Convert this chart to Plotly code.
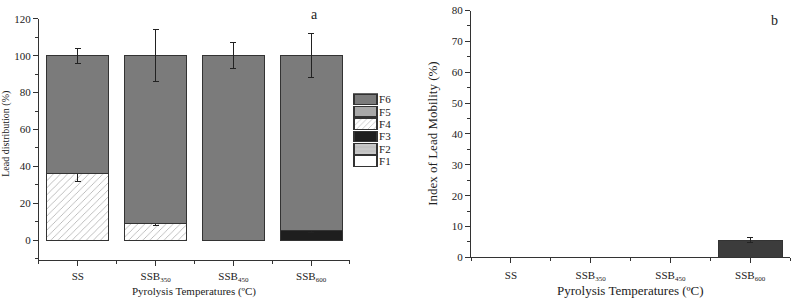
import plotly.graph_objects as go

# ---- data ----
categories = ["SS", "SSB<sub><span style='font-size:7px'>350</span></sub>",
              "SSB<sub><span style='font-size:7px'>450</span></sub>",
              "SSB<sub><span style='font-size:7px'>600</span></sub>"]
fractions = ["F1", "F2", "F3", "F4", "F5", "F6"]
F1 = [0, 0, 0, 0]
F2 = [0, 0, 0, 0]
F3 = [0, 0, 0, 5]
F4 = [36, 9, 0, 0]
F5 = [0, 0, 0, 0]
F6 = [64, 91, 100, 95]
F3_err = [0, 0, 0, 0.8]
F4_err = [4, 1, 0, 0]
F6_err = [4, 14, 7, 12]
mobility = [0, 0, 0, 5.5]
mobility_err = [0, 0, 0, 0.8]

FONT = "Liberation Serif"
EDGE = "#333333"
xpos = list(range(len(categories)))

styles = {
    "F1": dict(color="#ffffff"),
    "F2": dict(color="#c8c8c8", pattern=dict(shape="-", fgcolor="#9a9a9a", bgcolor="#c8c8c8", size=6, solidity=0.15)),
    "F3": dict(color="#1e1e1e"),
    "F4": dict(color="#ffffff", pattern=dict(shape="/", fgcolor="#555555", bgcolor="#ffffff", size=5, solidity=0.15)),
    "F5": dict(color="#a8a8a8"),
    "F6": dict(color="#7b7b7b"),
}
values = {"F1": F1, "F2": F2, "F3": F3, "F4": F4, "F5": F5, "F6": F6}
errs = {"F3": F3_err, "F4": F4_err, "F6": F6_err}

fig = go.Figure()

for f in fractions:
    vals = [v if v != 0 else None for v in values[f]]
    if all(v is None for v in vals):
        continue
    st = styles[f]
    marker = dict(color=st["color"], line=dict(color=EDGE, width=1))
    if "pattern" in st:
        marker["pattern"] = st["pattern"]
    tr = dict(x=xpos, y=vals, name=f, marker=marker, width=0.8, showlegend=False,
              xaxis="x", yaxis="y")
    if f in errs:
        e = [errs[f][i] if vals[i] is not None else None for i in range(len(vals))]
        tr["error_y"] = dict(type="data", array=e, visible=True, color="#222222", thickness=1, width=3)
    fig.add_trace(go.Bar(**tr))

# legend swatches as a small horizontal bar axis
for f in fractions:
    st = styles[f]
    marker = dict(color=st["color"], line=dict(color=EDGE, width=1.2))
    if "pattern" in st:
        marker["pattern"] = dict(st["pattern"], size=4)
    fig.add_trace(go.Bar(x=[1], y=[f], orientation="h", marker=marker, width=0.86,
                         showlegend=False, xaxis="x3", yaxis="y3", hoverinfo="skip"))

# right panel
fig.add_trace(go.Bar(x=xpos, y=[v if v != 0 else None for v in mobility], width=0.8,
                     marker=dict(color="#3c3c3c", line=dict(color=EDGE, width=1)),
                     error_y=dict(type="data", array=mobility_err, visible=True, color="#222222", thickness=1, width=3),
                     showlegend=False, xaxis="x2", yaxis="y2"))

axis_common = dict(showline=True, linecolor=EDGE, linewidth=1.2, ticks="outside", tickcolor=EDGE,
                   showgrid=False, zeroline=False, tickfont=dict(family=FONT, color="#222", size=11))

fig.update_layout(
    width=792, height=304, margin=dict(l=0, r=0, t=0, b=0),
    plot_bgcolor="white", paper_bgcolor="white", barmode="stack",
    font=dict(family=FONT, color="#222"),
    xaxis=dict(axis_common, domain=[0.0492, 0.4419], range=[-0.5, 3.5], tickvals=xpos, ticktext=categories,
               ticklen=5, ticklabelstandoff=1,
               minor=dict(tickvals=[-0.5, 0.5, 1.5, 2.5, 3.5], ticklen=3, ticks="outside", tickcolor=EDGE),
               anchor="y"),
    yaxis=dict(axis_common, domain=[0.1306, 0.9563], range=[-10.7, 120], dtick=20, tick0=0, ticklen=5,
               minor=dict(dtick=10, ticklen=3, ticks="outside", tickcolor=EDGE), anchor="x"),
    xaxis2=dict(axis_common, domain=[0.5947, 0.9975], range=[-0.5, 3.5], tickvals=xpos, ticktext=categories,
                ticklen=5, ticklabelstandoff=2,
                minor=dict(tickvals=[-0.5, 0.5, 1.5, 2.5, 3.5], ticklen=3, ticks="outside", tickcolor=EDGE),
                anchor="y2"),
    yaxis2=dict(axis_common, domain=[0.1391, 0.9845], range=[0, 80], dtick=10, ticklen=5,
                minor=dict(dtick=5, ticklen=3, ticks="outside", tickcolor=EDGE), anchor="x2"),
    xaxis3=dict(domain=[0.4457, 0.4773], range=[-0.04, 1.04], visible=False, anchor="y3"),
    yaxis3=dict(domain=[0.4474, 0.7016], range=[-0.5, 5.5], categoryorder="array", categoryarray=fractions,
                tickmode="array", tickvals=fractions, ticktext=fractions,
                side="right", showline=False, ticks="", showgrid=False, zeroline=False,
                tickfont=dict(family=FONT, color="#222", size=11), anchor="x3"),
)

ann = [
    dict(text="Lead distribution (%)", x=6, y=133, textangle=-90, size=10),
    dict(text="Pyrolysis Temperatures (ºC)", x=194, y=297, textangle=0, size=11),
    dict(text="Index of Lead Mobility (%)", x=433, y=133, textangle=-90, size=13),
    dict(text="Pyrolysis Temperatures (ºC)", x=630, y=296, textangle=0, size=13),
    dict(text="a", x=314, y=9, textangle=0, size=14),
    dict(text="b", x=774, y=15, textangle=0, size=14),
]
for a in ann:
    fig.add_annotation(text=a["text"], x=a["x"] / 792, y=1 - a["y"] / 304, xref="paper", yref="paper",
                       xanchor="center", yanchor="middle", showarrow=False, textangle=a["textangle"],
                       font=dict(family=FONT, size=a["size"], color="#222"))

fig.write_html("out.html", config={"displayModeBar": False},
               post_script="document.body.style.margin='0';document.body.style.overflow='hidden';")
